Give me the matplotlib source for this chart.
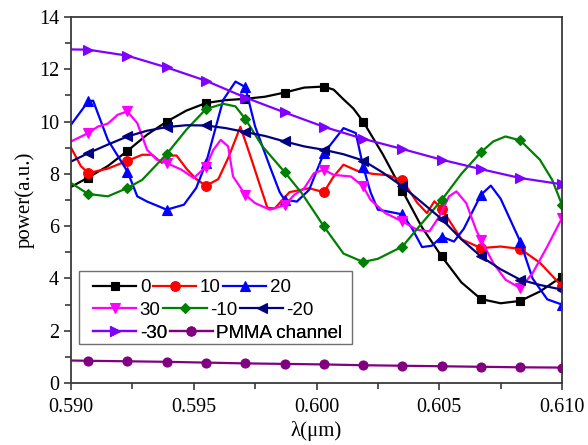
import numpy as np
import matplotlib
matplotlib.use("Agg")
import matplotlib.pyplot as plt
from matplotlib.lines import Line2D
from matplotlib.patches import Rectangle
from matplotlib.ticker import MultipleLocator, FormatStrFormatter

# ---------------- data ----------------
MARK_X = [0.5907, 0.5923, 0.5939, 0.5955, 0.5971, 0.5987, 0.6003,
          0.6019, 0.6035, 0.6051, 0.6067, 0.6083, 0.6100]

x_0 = [0.5900, 0.5907, 0.5915, 0.5923, 0.5931, 0.5939, 0.5947, 0.5955, 0.5963,
       0.5971, 0.5979, 0.5987, 0.5995, 0.6003, 0.6007, 0.6011, 0.6015, 0.6019,
       0.6027, 0.6035, 0.6043, 0.6051, 0.6059, 0.6067, 0.6075, 0.6083, 0.6091, 0.6100]
y_0 = [7.50, 7.86, 8.30, 8.88, 9.50, 10.00, 10.42, 10.71, 10.82,
       10.87, 10.95, 11.11, 11.30, 11.34, 11.22, 10.85, 10.50, 10.00,
       8.75, 7.35, 5.95, 4.84, 3.85, 3.21, 3.05, 3.14, 3.50, 4.07]

x_10 = [0.5900, 0.5904, 0.5907, 0.5915, 0.5923, 0.5929, 0.5933, 0.5937, 0.5940,
        0.5943, 0.5947, 0.5951, 0.5955, 0.5960, 0.5964, 0.5969, 0.5973, 0.5977,
        0.5980, 0.5983, 0.5989, 0.5997, 0.6003, 0.6007, 0.6011, 0.6017, 0.6023,
        0.6029, 0.6035, 0.6041, 0.6045, 0.6048, 0.6051, 0.6059, 0.6067, 0.6075,
        0.6083, 0.6091, 0.6100]
y_10 = [9.00, 8.30, 8.03, 8.20, 8.50, 8.73, 8.73, 8.42, 8.70,
        8.70, 8.20, 7.80, 7.54, 7.80, 8.60, 9.80, 8.70, 7.55,
        6.70, 6.68, 7.30, 7.45, 7.30, 7.90, 8.35, 8.10, 8.00,
        7.95, 7.75, 6.90, 6.50, 6.95, 6.66, 5.50, 5.16, 5.22,
        5.13, 4.60, 3.70]

x_20 = [0.5900, 0.5907, 0.5909, 0.5915, 0.5923, 0.5927, 0.5931, 0.5939, 0.5946,
        0.5951, 0.5955, 0.5962, 0.5967, 0.5971, 0.5975, 0.5981, 0.5985, 0.5987,
        0.5992, 0.5997, 0.6003, 0.6011, 0.6016, 0.6019, 0.6022, 0.6025, 0.6029,
        0.6035, 0.6039, 0.6043, 0.6047, 0.6051, 0.6056, 0.6060, 0.6067, 0.6071,
        0.6075, 0.6083, 0.6088, 0.6094, 0.6100]
y_20 = [9.88, 10.77, 10.80, 9.30, 8.09, 7.14, 6.94, 6.63, 6.82,
        7.46, 8.41, 10.83, 11.53, 11.32, 9.81, 8.28, 7.30, 7.01,
        6.94, 7.39, 8.79, 9.75, 9.56, 8.28, 7.30, 6.63, 6.56,
        6.45, 5.90, 5.20, 5.25, 5.60, 5.41, 5.90, 7.20, 7.55,
        7.05, 5.41, 4.00, 3.20, 3.00]

x_30 = [0.5900, 0.5907, 0.5911, 0.5915, 0.5919, 0.5923, 0.5927, 0.5931, 0.5935,
        0.5939, 0.5945, 0.5950, 0.5955, 0.5958, 0.5961, 0.5964, 0.5966, 0.5971,
        0.5975, 0.5981, 0.5987, 0.5991, 0.5995, 0.5999, 0.6003, 0.6007, 0.6014,
        0.6019, 0.6022, 0.6028, 0.6035, 0.6041, 0.6046, 0.6050, 0.6054, 0.6057,
        0.6061, 0.6065, 0.6067, 0.6072, 0.6077, 0.6083, 0.6088, 0.6094, 0.6100]
y_30 = [9.24, 9.56, 9.81, 9.92, 10.26, 10.39, 9.94, 8.92, 8.54,
        8.41, 8.16, 7.84, 8.28, 8.92, 9.30, 9.05, 7.90, 7.20,
        6.88, 6.63, 6.80, 7.20, 7.45, 8.03, 8.16, 7.96, 7.90,
        7.52, 7.01, 6.50, 6.18, 5.86, 5.80, 6.37, 7.14, 7.33,
        6.88, 5.86, 5.48, 4.59, 3.95, 3.63, 4.20, 5.22, 6.31]

x_m10 = [0.5900, 0.5907, 0.5915, 0.5923, 0.5929, 0.5939, 0.5947, 0.5955, 0.5962,
         0.5967, 0.5971, 0.5978, 0.5987, 0.5994, 0.6003, 0.6011, 0.6019, 0.6025,
         0.6035, 0.6043, 0.6051, 0.6059, 0.6067, 0.6072, 0.6077, 0.6083, 0.6091,
         0.6096, 0.6100]
y_m10 = [7.65, 7.23, 7.14, 7.46, 7.77, 8.76, 9.69, 10.48, 10.68,
         10.58, 10.10, 9.05, 8.07, 7.26, 5.99, 4.95, 4.63, 4.75,
         5.22, 6.12, 7.00, 8.00, 8.83, 9.24, 9.43, 9.28, 8.54,
         7.77, 6.82]

x_m20 = [0.5900, 0.5907, 0.5915, 0.5923, 0.5931, 0.5939, 0.5947, 0.5955, 0.5963,
         0.5971, 0.5979, 0.5987, 0.5995, 0.6003, 0.6011, 0.6019, 0.6027, 0.6035,
         0.6043, 0.6051, 0.6059, 0.6067, 0.6075, 0.6083, 0.6091, 0.6100]
y_m20 = [8.47, 8.79, 9.12, 9.43, 9.65, 9.79, 9.86, 9.85, 9.75,
         9.60, 9.45, 9.24, 9.05, 8.92, 8.75, 8.51, 8.05, 7.52,
         6.90, 6.27, 5.50, 4.84, 4.35, 3.95, 3.75, 3.57]

x_m30 = [0.5900, 0.5907, 0.5923, 0.5939, 0.5955, 0.5971, 0.5987, 0.6003,
         0.6019, 0.6035, 0.6051, 0.6067, 0.6083, 0.6100]
y_m30 = [12.76, 12.75, 12.52, 12.07, 11.56, 10.92, 10.35, 9.80,
         9.34, 8.95, 8.54, 8.18, 7.84, 7.60]

x_pmma = [0.5900, 0.5907, 0.5923, 0.5939, 0.5955, 0.5971, 0.5987, 0.6003,
          0.6019, 0.6035, 0.6051, 0.6067, 0.6083, 0.6100]
y_pmma = [0.86, 0.85, 0.83, 0.81, 0.78, 0.75, 0.73, 0.71,
          0.68, 0.66, 0.64, 0.62, 0.60, 0.59]

labels = ["0", "10", "20", "30", "-10", "-20", "-30", "PMMA channel"]
xs = [x_0, x_10, x_20, x_30, x_m10, x_m20, x_m30, x_pmma]
ys = [y_0, y_10, y_20, y_30, y_m10, y_m20, y_m30, y_pmma]
colors = ["#000000", "#FF0000", "#0000FF", "#FF00FF", "#008000",
          "#000080", "#8000FF", "#800080"]
markers = ["s", "o", "^", "v", "D", "<", ">", "o"]
msizes = [6, 7, 7, 7, 5.5, 7, 7, 6.5]

# ---------------- figure ----------------
fig = plt.figure(figsize=(5.88, 4.45), dpi=100)
ax = fig.add_axes([71 / 588, 1 - 383 / 445, 491 / 588, 366 / 445])

for x, y, c, m, ms, lab in zip(xs, ys, colors, markers, msizes, labels):
    x = np.asarray(x)
    idx = [int(np.argmin(np.abs(x - mx))) for mx in MARK_X
           if np.min(np.abs(x - mx)) < 1e-7]
    ax.plot(x, y, color=c, lw=1.6, marker=m, ms=ms, markevery=idx,
            markeredgewidth=0.8, label=lab, solid_joinstyle="round")

ax.set_xlim(0.590, 0.610)
ax.set_ylim(0, 14)
ax.xaxis.set_major_locator(MultipleLocator(0.005))
ax.xaxis.set_minor_locator(MultipleLocator(0.0025))
ax.xaxis.set_major_formatter(FormatStrFormatter("%.3f"))
ax.yaxis.set_major_locator(MultipleLocator(2))
ax.yaxis.set_minor_locator(MultipleLocator(1))

serif = ["Liberation Serif", "DejaVu Serif"]
for s in ax.spines.values():
    s.set_linewidth(1.3)
    s.set_color("#3a3a3a")
ax.tick_params(which="both", direction="out", top=False, right=False,
               color="#3a3a3a", width=1.2)
ax.tick_params(which="major", length=5)
ax.tick_params(which="minor", length=4)
ax.tick_params(axis="x", which="major", pad=6)
for t in ax.get_xticklabels() + ax.get_yticklabels():
    t.set_fontfamily(serif)
    t.set_fontsize(14.5)
ax.set_xlabel("λ(μm)", fontfamily=serif, fontsize=15, labelpad=3)
ax.set_ylabel("power(a.u.)", fontfamily=serif, fontsize=15, labelpad=3)

# ---------------- legend: three rows like the original ----------------
rows = [[0, 1, 2], [3, 4, 5], [6, 7]]
row_y = [(383 - 287.7) / 366, (383 - 310) / 366, (383 - 333.3) / 366]
x_start = (93.3 - 71) / 491
for r, yy in zip(rows, row_y):
    handles = [Line2D([], [], color=colors[i], lw=1.6, marker=markers[i],
                      ms=msizes[i], markeredgewidth=0.8) for i in r]
    leg = ax.legend(handles, [labels[i] for i in r], ncol=len(r),
                    loc="center left", bbox_to_anchor=(x_start, yy),
                    frameon=False, borderpad=0, borderaxespad=0,
                    handlelength=2.3, handletextpad=0.18, columnspacing=0.15,
                    prop={"family": ["Liberation Sans", "DejaVu Sans"],
                          "size": 13.5})
    ax.add_artist(leg)

ax.add_patch(Rectangle(((79 - 71) / 491, (383 - 344.3) / 366),
                       (352 - 79) / 491, (344.3 - 271) / 366,
                       transform=ax.transAxes, fill=False,
                       edgecolor="#707070", lw=1.0, zorder=5))

fig.savefig("out.png", dpi=100)
